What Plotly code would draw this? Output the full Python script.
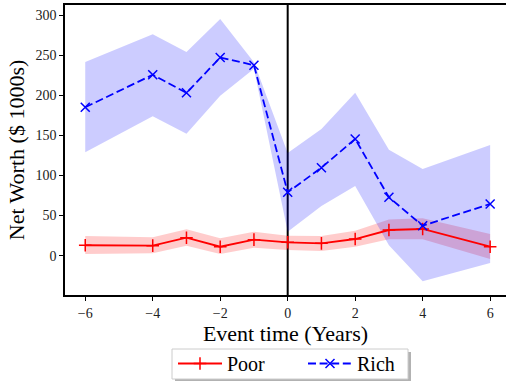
import plotly.graph_objects as go

# Event time in years relative to the event
event_time = [-6, -4, -3, -2, -1, 0, 1, 2, 3, 4, 6]

# Mean net worth ($ 1000s) and confidence band, poor households
poor_mean = [13, 12.5, 22.4, 11.2, 20, 16.7, 15.4, 20.8, 32, 33.3, 11.2]
poor_low = [2, 3, 12.5, 2, 10, 7, 6, 11, 20.5, 20.5, -4]
poor_high = [24.6, 23, 33, 21.7, 30, 25, 24.5, 31, 45, 46.6, 27]

# Mean net worth ($ 1000s) and confidence band, rich households
rich_mean = [185, 225.5, 203, 247, 237.5, 79, 109.7, 145.5, 72.8, 37.4, 64.5]
rich_low = [129, 173.8, 152, 199.5, 233, 30, 62, 87, 13, -32, -9]
rich_high = [241.5, 276, 254, 295, 241, 128, 158, 203, 132, 108, 138]

x_ticks = [-6, -4, -2, 0, 2, 4, 6]
y_ticks = [0, 50, 100, 150, 200, 250, 300]

SERIF = "Liberation Serif, DejaVu Serif, serif"

# plot area in pixels: left 65, right 506, top 5, bottom 295
PL, PW, PB, PH = 65, 441, 295, 290


def px_x(p):
    return (p - PL) / PW


def px_y(p):
    return (PB - p) / PH


def band(x, lo, hi, color):
    return go.Scatter(
        x=list(x) + list(x)[::-1],
        y=list(hi) + list(lo)[::-1],
        fill="toself",
        fillcolor=color,
        line=dict(width=0),
        mode="lines",
        hoverinfo="skip",
        showlegend=False,
    )


fig = go.Figure()
fig.add_trace(band(event_time, poor_low, poor_high, "rgba(255,0,0,0.2)"))
fig.add_trace(band(event_time, rich_low, rich_high, "rgba(0,0,255,0.2)"))
fig.add_trace(go.Scatter(
    x=event_time, y=poor_mean, name="Poor", mode="lines+markers",
    line=dict(color="red", width=1.8),
    marker=dict(symbol="cross-thin", size=9, line=dict(color="red", width=1.5)),
))
fig.add_trace(go.Scatter(
    x=event_time, y=rich_mean, name="Rich", mode="lines+markers",
    line=dict(color="blue", width=1.8, dash="8px,3.6px"),
    marker=dict(symbol="x-thin", size=9, line=dict(color="blue", width=1.5)),
))

# Event marker at t = 0
fig.add_shape(type="line", xref="x", yref="paper", x0=0, x1=0, y0=0, y1=1,
              line=dict(color="black", width=2), layer="below")

# Legend frame with drop shadow
fig.add_shape(type="rect", xref="paper", yref="paper",
              x0=px_x(175), x1=px_x(411), y0=px_y(383), y1=px_y(352),
              fillcolor="rgba(0,0,0,0.3)", line=dict(width=0), layer="above")
fig.add_shape(type="rect", xref="paper", yref="paper",
              x0=px_x(172), x1=px_x(408), y0=px_y(379), y1=px_y(349),
              fillcolor="white", line=dict(color="#cccccc", width=1), layer="above")

fig.update_layout(
    width=506, height=381,
    margin=dict(l=PL, r=0, t=5, b=381 - PB, autoexpand=False),
    paper_bgcolor="white", plot_bgcolor="white",
    font=dict(family=SERIF, color="black"),
    showlegend=True,
    legend=dict(
        orientation="h", x=px_x(173), xanchor="left", y=px_y(344), yanchor="top",
        bgcolor="rgba(0,0,0,0)", borderwidth=0,
        font=dict(family=SERIF, size=20, color="black"),
        itemwidth=44, entrywidth=71, tracegroupgap=0,
    ),
    xaxis=dict(
        range=[-6.6, 6.47], tickvals=x_ticks, ticks="outside", ticklen=4,
        tickcolor="black", showline=True, linecolor="black", linewidth=1.5,
        mirror=True, showgrid=False, zeroline=False,
        tickfont=dict(family=SERIF, size=14, color="#222222"),
        title=dict(text="Event time (Years)", font=dict(family=SERIF, size=22), standoff=2),
    ),
    yaxis=dict(
        range=[-49, 312.5], tickvals=y_ticks, ticks="outside", ticklen=4,
        tickcolor="black", showline=True, linecolor="black", linewidth=1.5,
        mirror=False, showgrid=False, zeroline=False,
        tickfont=dict(family=SERIF, size=14, color="#222222"),
        title=dict(text="Net Worth ($ 1000s)", font=dict(family=SERIF, size=22), standoff=5),
    ),
)

fig.write_html("out.html")
